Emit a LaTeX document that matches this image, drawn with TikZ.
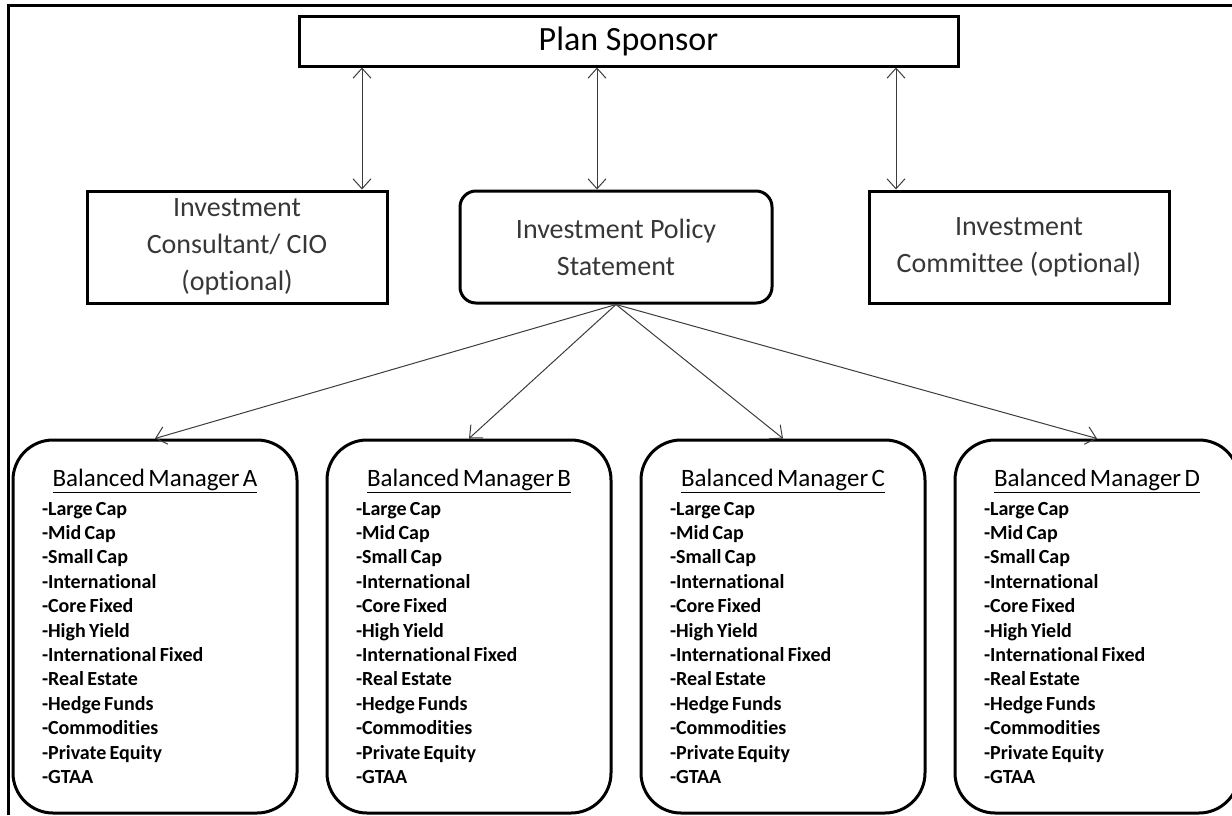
\documentclass[tikz,border=0pt]{standalone}
\usepackage{fontspec}
\setmainfont{Carlito}[Ligatures=NoCommon]
\usetikzlibrary{
    arrows.meta,
    positioning
}
\definecolor{planline}{RGB}{0,0,0}
\definecolor{plantext}{RGB}{55,55,55}
\definecolor{planarrow}{RGB}{60,60,60}

\newcommand{\managerlist}[1]{%
    {\centering\fontsize{25}{28}\selectfont\underline{Balanced Manager #1}\par}%
    \vspace{4pt}%
    {\fontsize{20}{24.4}\selectfont\bfseries
    -Large Cap\\
    -Mid Cap\\
    -Small Cap\\
    -International\\
    -Core Fixed\\
    -High Yield\\
    -International Fixed\\
    -Real Estate\\
    -Hedge Funds\\
    -Commodities\\
    -Private Equity\\
    -GTAA\par}%
}

\begin{document}
\begin{tikzpicture}[
        x=1pt, y=-1pt,
        node distance=27pt,
        box/.style={
            draw=planline,
            line width=3pt,
            align=center,
            text=plantext,
            minimum width=300pt,
            minimum height=112pt,
            inner sep=0pt,
            font=\fontsize{28}{37}\selectfont
        },
        policy/.style={
            box,
            rounded corners=16pt,
            minimum width=312pt
        },
        manager/.style={
            draw=planline,
            line width=3pt,
            rounded corners=40pt,
            minimum width=284pt,
            minimum height=373pt,
            text width=226pt,
            inner xsep=29pt,
            inner ysep=0pt,
            align=left
        },
        link/.style={
            {Straight Barb[length=10pt,width=18pt]}-{Straight Barb[length=10pt,width=18pt]},
            line width=1pt,
            draw=planarrow
        },
        feed/.style={
            -{Straight Barb[length=10pt,width=18pt]},
            line width=1pt,
            draw=planarrow
        }
    ]

    \useasboundingbox (0,0) rectangle (1232,815);

    % page frame (only top and left edges show)
    \draw[line width=3pt] (8,815) -- (8,5) -- (1232,5);

    \node[box, minimum width=659pt, minimum height=50pt,
          font=\fontsize{34}{40}\selectfont, text=black] (sponsor) at (628.5,41) {Plan Sponsor};

    \node[box] (consultant) at (237,247) {Investment\\Consultant/ CIO\\(optional)};
    \node[policy] (ips) at (616,247) {Investment Policy\\Statement};
    \node[box] (committee) at (1019,247) {Investment\\Committee (optional)};

    \node[manager] (mgrA) at (155,626.5) {\managerlist{A}};
    \node[manager, right=of mgrA] (mgrB) {\managerlist{B}};
    \node[manager, right=of mgrB] (mgrC) {\managerlist{C}};
    \node[manager, right=of mgrC] (mgrD) {\managerlist{D}};

    \coordinate (linkA) at (362,0);
    \coordinate (linkB) at (597,0);
    \coordinate (linkC) at (896,0);

    \draw[link] (sponsor.south -| linkA) -- (consultant.north -| linkA);
    \draw[link] (sponsor.south -| linkB) -- (ips.north -| linkB);
    \draw[link] (sponsor.south -| linkC) -- (committee.north -| linkC);

    \draw[feed] (ips.south) -- (mgrA.north);
    \draw[feed] (ips.south) -- (mgrB.north);
    \draw[feed] (ips.south) -- (mgrC.north);
    \draw[feed] (ips.south) -- (mgrD.north);

\end{tikzpicture}
\end{document}
